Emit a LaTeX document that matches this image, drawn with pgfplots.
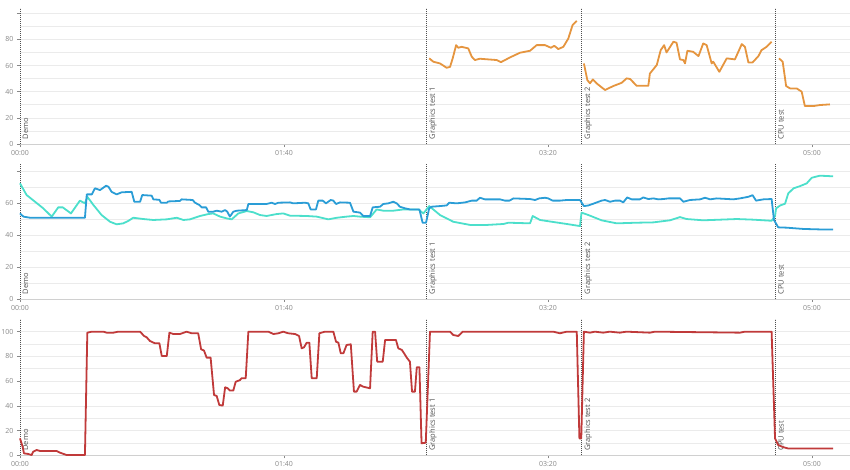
\documentclass[border=0pt]{standalone}
\usepackage{fontspec}
\setmainfont{Open Sans}
\usepackage{pgfplots}
\pgfplotsset{compat=1.18}
\definecolor{cOrange}{HTML}{E5953F}
\definecolor{cBlue}{HTML}{2A9DD6}
\definecolor{cTurq}{HTML}{4CDFCB}
\definecolor{cRed}{HTML}{C03A3A}
\definecolor{cGrid}{HTML}{EBEBEB}
\definecolor{cAxis}{HTML}{D0D0D0}
\definecolor{cTick}{HTML}{888888}
\definecolor{cEvent}{HTML}{505050}
\tikzset{
  evlabel/.style={rotate=90, anchor=north west, inner sep=0pt, font=\fontsize{7.5}{8}\selectfont, text=cEvent},
}
\pgfplotsset{
  panel/.style={
    scale only axis, width=830pt, anchor=south west,
    xmin=0, xmax=314.4, ymin=0,
    axis x line*=bottom, axis y line*=left,
    x axis line style={draw=cAxis, line width=0.6pt, -},
    y axis line style={draw=none, -},
    tick align=outside, major tick length=3pt, minor tick length=0pt,
    tick style={cTick, line width=0.5pt},
    xtick={0,100,200,300}, xticklabels={00:00,01:40,03:20,05:00},
    minor y tick num=1,
    ymajorgrids, yminorgrids,
    major grid style={cGrid, line width=0.6pt},
    minor grid style={cGrid, line width=0.6pt},
    tick label style={font=\fontsize{7}{8}\selectfont, text=cTick},
    /pgf/number format/assume math mode=true,
    clip=false,
  },
  evline/.style={cEvent, line width=0.7pt, dash pattern=on 1.2pt off 0.8pt, forget plot, no markers},
  data/.style={line width=1.8pt, line join=round, no markers},
}
\begin{document}
\begin{tikzpicture}
% ---------------- Panel 1 ----------------
\begin{axis}[panel, at={(20pt,-144pt)}, height=136pt, ymax=104,
  ytick={0,20,40,60,80,100}, yticklabels={0,20,40,60,80,{}}]
\addplot[evline] coordinates {(0,0) (0,104)};
\addplot[evline] coordinates {(154,0) (154,104)};
\addplot[evline] coordinates {(212.8,0) (212.8,104)};
\addplot[evline] coordinates {(286.2,0) (286.2,104)};
\node[evlabel] at ([xshift=2.5pt,yshift=4.5pt]axis cs:0,0) {Demo};
\node[evlabel] at ([xshift=2.5pt,yshift=4.5pt]axis cs:154,0) {Graphics test 1};
\node[evlabel] at ([xshift=2.5pt,yshift=4.5pt]axis cs:212.8,0) {Graphics test 2};
\node[evlabel] at ([xshift=2.5pt,yshift=4.5pt]axis cs:286.2,0) {CPU test};
\addplot[data, cOrange] coordinates {
(155,65.5)(156.6,62.9)(159.1,61.6)(161.6,58.3)(162.9,59)(163.9,65.5)(165.2,75.6)(166,73.6)
(167.3,74.3)(169.8,73.1)(171.1,66.8)(172.3,64.2)(174.2,65.2)(180.6,64.2)(182.2,62.6)(185.6,66.2)
(189.4,69.8)(193.2,71.3)(195.7,75.6)(198.9,75.6)(201.1,73.6)(202.4,75.1)(203.9,72.6)(205.8,74.3)
(207.7,80.7)(209.3,90.9)(210.9,94.2)};
\addplot[data, cOrange] coordinates {
(213.6,61.6)(214.9,48.9)(215.9,46.4)(217,49.4)(218.4,46.4)(221.6,41.3)(224.7,44.3)(227.9,46.8)
(229.8,50.2)(231.1,49.7)(233.6,44.5)(238,44.5)(238.6,53.9)(241.2,60.4)(242.7,71.8)(244,75.6)
(244.9,70)(247.5,78.2)(248.7,77.4)(250,64.7)(251.3,64.2)(251.9,61.6)(252.8,71.3)(255,70.5)
(257,67.2)(258.8,76.9)(260.1,75.6)(262,61.6)(262.6,62.9)(264.9,55.2)(267.7,65.5)(270.8,64.7)
(273.4,76.4)(274.6,74.3)(275.9,62.4)(277.5,62.4)(279.7,67.2)(280.9,71.8)(282.8,74.3)(284.7,78.2)};
\addplot[data, cOrange] coordinates {
(287.5,65.5)(288.9,62.9)(290.2,44.3)(291.7,42.5)(294.2,42.5)(296.1,40)(297.3,29)(300.5,29)
(303,29.8)(306.8,30.3)};
\end{axis}
% ---------------- Panel 2 ----------------
\begin{axis}[panel, at={(20pt,-299pt)}, height=135pt, ymax=84.4,
  ytick={0,20,40,60,80}, yticklabels={0,20,40,60,{}}]
\addplot[evline] coordinates {(0,0) (0,84.4)};
\addplot[evline] coordinates {(154,0) (154,84.4)};
\addplot[evline] coordinates {(212.8,0) (212.8,84.4)};
\addplot[evline] coordinates {(286.2,0) (286.2,84.4)};
\node[evlabel] at ([xshift=2.5pt,yshift=4.5pt]axis cs:0,0) {Demo};
\node[evlabel] at ([xshift=2.5pt,yshift=4.5pt]axis cs:154,0) {Graphics test 1};
\node[evlabel] at ([xshift=2.5pt,yshift=4.5pt]axis cs:212.8,0) {Graphics test 2};
\node[evlabel] at ([xshift=2.5pt,yshift=4.5pt]axis cs:286.2,0) {CPU test};
\addplot[data, cTurq] coordinates {
(0,72.3)(2.5,65)(5.7,60.8)(8.8,56.7)(12,51.5)(14.5,57.3)(16.2,57.3)(19.3,53.5)(22.7,61.5)(24.6,59.8)
(25.5,63.9)(27.8,58.8)(30.9,52.5)(34.1,48.3)(36.6,46.7)(39.1,47.3)(41,48.8)(42.9,50.8)(46.7,50)
(50.5,49.4)(55.6,49.8)(59.4,50.8)(61.9,49.4)(64.4,49.8)(68.2,51.9)(71.3,53.1)(73.2,53.5)(75.8,51.5)
(78.3,50.4)(80.2,49.8)(82.7,53.5)(85.9,55)(88.4,54.2)(90.9,52.5)(93.4,51.9)(97.2,53.1)(99.7,53.5)
(102.3,52.1)(108.6,51.9)(112.4,51.5)(116.8,49.8)(120,50.8)(123.7,51.5)(126.3,51.9)(128.8,51.5)
(132.6,51.1)(135.1,56)(137.6,55.2)(141.4,55.2)(145.2,56)(150.9,56)(152.8,53.5)(155,58.1)(159.1,52.5)
(164.1,48.3)(170.5,46.3)(176.8,46.3)(183.1,46.9)(185,47.7)(193.2,47.3)(194.2,51.9)(197,49.4)
(201.4,48.3)(207.1,46.9)(212.1,45.6)(212.7,54)(215.3,52.5)(220.3,49.2)(226,47.3)(233.6,47.7)
(239.9,47.9)(246.2,49.2)(250,51.2)(252.5,50)(258.8,49.2)(265.2,49.6)(271.5,50)(277.8,49.6)
(284.7,48.9)(286,51.9)(286.4,56.7)(288,58.5)(289.8,59.6)(291,66)(293,69.2)(295.5,70.6)(298,72.3)
(299.9,75.8)(303,77.1)(308,76.7)};
\addplot[data, cBlue] coordinates {
(0,53.5)(1.3,51.5)(3.8,50.8)(24.6,50.8)(25.3,65.4)(27.2,65.4)(28.4,69.2)(30.3,68.1)(32.6,70.8)
(33.5,70.2)(34.7,67)(36.6,65.4)(38.5,66.7)(42.3,67)(43.3,60.8)(45.5,60.8)(46.3,65)(49.9,64.6)
(50.5,62.3)(52.8,62)(53.4,60.2)(55.6,60.2)(56.2,61)(60.6,61.3)(61.2,62.3)(65.4,61.9)(66.3,60.2)
(67.9,58.8)(68.8,57.3)(70.5,57.3)(71.3,54.6)(73.2,54.6)(74.5,55.2)(76.4,54.6)(77.7,55.6)(78.5,54.6)
(79.5,51.5)(80.8,54.6)(82.1,55.2)(85.9,55.6)(86.5,59.4)(93.4,59.4)(95.3,60.2)(96.6,59.4)(97.9,60.2)
(102.3,60.4)(103.5,59.8)(108,60.2)(109.2,59.8)(110.1,56)(112.1,56)(113,61.5)(114.7,61.5)(115.9,59.8)
(117.7,61.9)(118.7,61.5)(119.7,59.4)(121.2,60.4)(125,60.2)(126.3,54.6)(128.8,54)(130,51.9)
(132.6,51.9)(133.6,57.3)(136.4,57.7)(137.6,59.4)(139.5,59.8)(141.4,60.8)(142.7,59.8)(143.9,57.7)
(145.8,56.7)(147.7,56)(151.3,56)(152.5,47.7)(153.8,47.7)(155,56.7)(155.9,57.7)(159.1,58.1)
(161.6,58.5)(162.6,60.2)(165.4,59.8)(168.6,60.4)(171.1,61.5)(173,61.5)(174.2,63.3)(176.1,62.3)
(181.8,62.3)(183.7,61.5)(185.4,61.5)(186.9,62.9)(193.2,62.5)(195.1,61.9)(196.7,62.9)(198.9,63.3)
(200.1,62.9)(201.8,61.5)(204.5,61.5)(207.1,61.9)(212.1,61.9)(213.6,58.1)(215.3,58.5)(217.2,59.6)
(220.3,61.5)(221.6,61.9)(223.5,60.8)(225.4,61.5)(227.3,61.5)(228.5,60.4)(230,63.5)(231.7,62.3)
(234.8,62.3)(236.1,63.5)(238,62.5)(239.9,62.9)(241.8,62.3)(243.7,62.5)(245.6,62.9)(250,62.9)
(251.3,60.8)(253.8,61.9)(257.6,62.3)(259.5,63.3)(261.4,62.3)(263.9,62.9)(270.2,62.3)(272.7,62.9)
(275.9,63.9)(277.5,64.9)(278.8,61.5)(281.6,62.3)(284.7,62.5)(285.6,49.4)(287.2,44.8)(290.4,44.6)
(296.7,43.8)(303,43.5)(308,43.5)};
\end{axis}
% ---------------- Panel 3 ----------------
\begin{axis}[panel, at={(20pt,-455.3pt)}, height=136pt, ymax=110,
  ytick={0,20,...,100}]
\addplot[evline] coordinates {(0,0) (0,110)};
\addplot[evline] coordinates {(154,0) (154,110)};
\addplot[evline] coordinates {(212.8,0) (212.8,110)};
\addplot[evline] coordinates {(286.2,0) (286.2,110)};
\node[evlabel] at ([xshift=2.5pt,yshift=4.5pt]axis cs:0,0) {Demo};
\node[evlabel] at ([xshift=2.5pt,yshift=4.5pt]axis cs:154,0) {Graphics test 1};
\node[evlabel] at ([xshift=2.5pt,yshift=4.5pt]axis cs:212.8,0) {Graphics test 2};
\node[evlabel] at ([xshift=2.5pt,yshift=4.5pt]axis cs:286.2,0) {CPU test};
\addplot[data, cRed] coordinates {
(0,13.7)(1,7)(1.5,1.6)(3.1,1.1)(4.4,0.2)(5,2.9)(6.3,4.3)(7.6,3.5)(13.9,3.5)(15.2,2.1)(17.7,0.2)
(24.6,0.2)(25.5,99.2)(27.2,100)(31.6,100)(32.8,99.2)(35.4,99.2)(37.2,100)(45.5,100)(47,96.5)
(48,95.4)(49.2,92.5)(51.1,90.6)(52.8,90.6)(53.7,80.3)(55.6,80.3)(56.6,99.2)(58.1,98.1)(60.6,98.1)
(63.1,100)(65,98.7)(67.5,98.7)(68.6,85.8)(69.7,84.7)(70.7,79)(72.2,79)(73.5,48.8)(74.5,48)
(75.5,40.7)(76.8,40.2)(77.7,55)(78.7,54.2)(79.5,52.4)(80.8,52.4)(81.7,59.5)(83.3,60.8)(83.9,62.3)
(85.5,62.3)(86.5,100)(94.1,100)(96,98.1)(97.9,98.7)(99.7,100)(101.6,98.7)(104.2,98.1)(105.7,96.5)
(106.7,86.5)(107.6,87.4)(108.6,91.1)(109.6,91.1)(110.5,62.3)(112.4,62.3)(113.4,98.7)(115.5,100)
(118.7,100)(119.7,91.9)(120.6,91.1)(121.5,82.5)(122.5,82.5)(123.7,89.2)(125.3,89.8)(126.5,51.5)
(127.5,51.5)(128.8,56.9)(130,55.5)(132.6,54.2)(133.6,100)(134.5,100)(135.3,75.7)(137.4,75.7)
(138.3,93.3)(142.4,93.3)(143.3,86.5)(144.6,85.3)(145.5,82.5)(146.5,79)(147.7,75.7)(148.5,51.5)
(149.6,51.5)(150.3,71.2)(151.3,71.2)(152.1,9.7)(153.7,10.2)(155.3,100)(162.9,100)(164.1,97.3)
(166,96.5)(167.7,100)(202,100)(204.5,98.7)(207.1,100)(210.9,100)(211.9,13.7)(212.6,13.7)
(213.6,100)(215.9,99.2)(217.8,100)(220.9,99.2)(223.4,100)(227.2,99.2)(229.7,100)(238.6,99.2)
(240.5,100)(272.7,99.2)(274.6,100)(284.7,100)(286,13.7)(287.2,8.3)(289.1,6.6)(291,5.5)
(296.8,5.5)(308,5.5)};
\end{axis}
\pgfresetboundingbox
\path[use as bounding box] (0,0) rectangle (850pt,-469pt);
\end{tikzpicture}
\end{document}
